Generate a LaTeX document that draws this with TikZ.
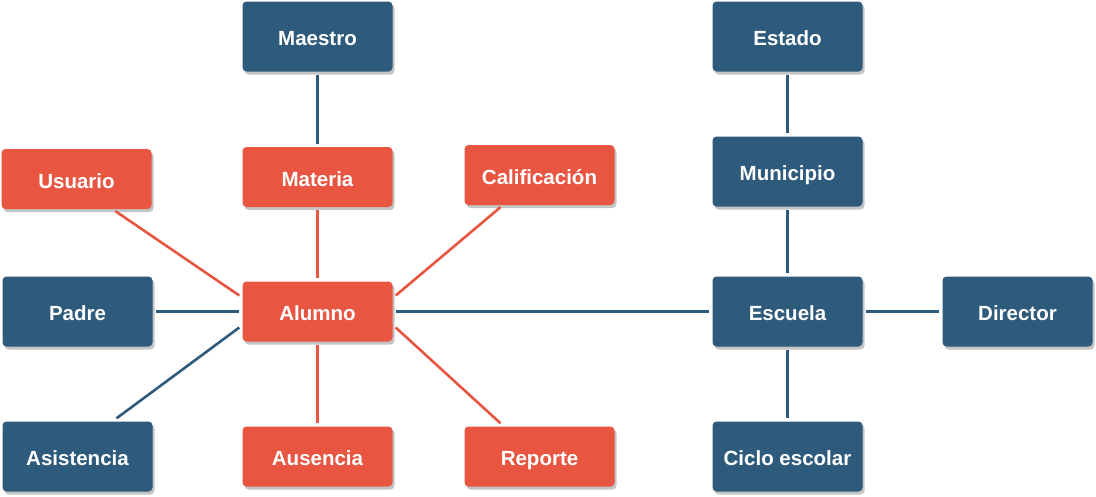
\documentclass[tikz,border=0pt]{standalone}
\usepackage{fontspec}
\setmainfont{Liberation Sans}
\usetikzlibrary{shadows}
\definecolor{rojo}{HTML}{E85642}
\definecolor{azul}{HTML}{2E5A7C}
\definecolor{sombra}{HTML}{C4C4C4}
\tikzset{
  caja/.style={rounded corners=4pt, minimum width=150pt, text=white,
    font=\fontsize{20.5}{24}\selectfont\bfseries, inner sep=0pt,
    text height=19pt, text depth=1pt,
    drop shadow={shadow xshift=2pt, shadow yshift=-3pt, fill=sombra, opacity=1}},
  cajaroja/.style={caja, fill=rojo, minimum height=60pt},
  cajaazul/.style={caja, fill=azul, minimum height=70pt},
  lr/.style={draw=rojo, line width=2.6pt},
  la/.style={draw=azul, line width=2.6pt},
  corta/.style={shorten <=3pt, shorten >=3pt}
}
\begin{document}
\begin{tikzpicture}[x=1pt,y=-1pt]
\useasboundingbox (0,0) rectangle (1096,496);
\node[cajaazul] (maestro) at (317.5,36.5) {Maestro};
\node[cajaroja] (materia) at (317.5,177) {Materia};
\node[cajaroja] (usuario) at (76.5,179) {Usuario};
\node[cajaroja] (calif) at (539.5,175) {Calificación};
\node[cajaazul] (padre) at (77.5,311.5) {Padre};
\node[cajaroja] (alumno) at (317.5,311.5) {Alumno};
\node[cajaazul] (asist) at (77.5,456.5) {Asistencia};
\node[cajaroja] (ausencia) at (317.5,456.5) {Ausencia};
\node[cajaroja] (reporte) at (539.5,456.5) {Reporte};
\node[cajaazul] (estado) at (787.5,36.5) {Estado};
\node[cajaazul] (municipio) at (787.5,171.5) {Municipio};
\node[cajaazul] (escuela) at (787.5,311.5) {Escuela};
\node[cajaazul] (director) at (1017.5,311.5) {Director};
\node[cajaazul] (ciclo) at (787.5,456.5) {Ciclo escolar};

\draw[la,corta] (maestro) -- (materia);
\draw[lr,corta] (materia) -- (alumno);
\draw[la,corta] (padre) -- (alumno);
\draw[lr,corta] (alumno) -- (ausencia);
\draw[la,corta] (alumno) -- (escuela);
\draw[la,corta] (escuela) -- (director);
\draw[la,corta] (estado) -- (municipio);
\draw[la,corta] (municipio) -- (escuela);
\draw[la,corta] (escuela) -- (ciclo);
\draw[lr] ([xshift=39pt,yshift=-2pt]usuario.south) -- ([xshift=-3pt,yshift=16pt]alumno.west);
\draw[lr] ([xshift=-39pt,yshift=-2pt]calif.south) -- ([xshift=3pt,yshift=16pt]alumno.east);
\draw[la] ([xshift=39pt,yshift=3pt]asist.north) -- ([xshift=-3pt,yshift=-16pt]alumno.west);
\draw[lr] ([xshift=3pt,yshift=-16pt]alumno.east) -- ([xshift=-39pt,yshift=3pt]reporte.north);
\end{tikzpicture}
\end{document}
